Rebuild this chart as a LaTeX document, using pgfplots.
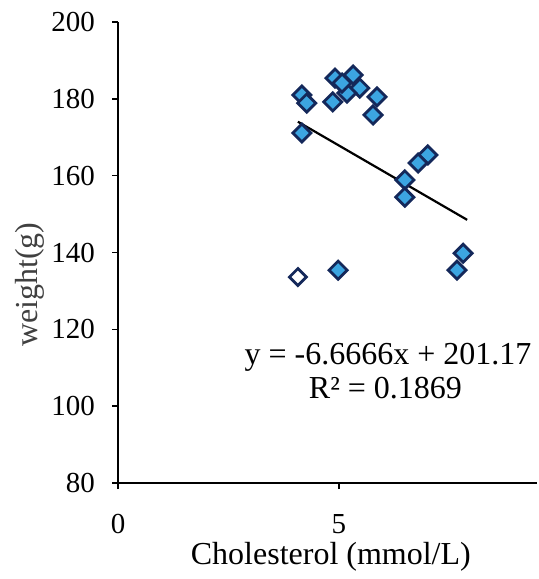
\documentclass[border=0pt]{standalone}
\usepackage{fontspec}
\setmainfont{Liberation Serif}
\usepackage{pgfplots}
\pgfplotsset{compat=1.18}
\definecolor{ptfill}{RGB}{60,165,225}
\definecolor{ptedge}{RGB}{20,40,90}

\begin{document}
\begin{tikzpicture}
\useasboundingbox (0,0) rectangle (269pt,289.5pt);
\begin{axis}[
    at={(59pt,48pt)}, anchor=south west,
    scale only axis,
    width=209.5pt, height=230.5pt,
    xmin=0, xmax=9.48, ymin=80, ymax=200,
    axis lines=left,
    axis line style={-, line width=0.9pt},
    xtick={0,5}, ytick={80,100,...,200},
    tick align=outside,
    major tick length=3pt,
    tick style={line width=0.8pt, black},
    /pgf/number format/assume math mode=true,
    tick label style={font=\fontsize{14.5}{16}\selectfont},
    xticklabel style={yshift=-9pt},
    yticklabel style={xshift=-5pt},
    xlabel={Cholesterol (mmol/L)},
    ylabel={weight(g)},
    label style={font=\fontsize{16}{18}\selectfont},
    xlabel style={at={(axis description cs:0.508,-0.16)}, anchor=center},
    ylabel style={at={(axis description cs:-0.21,0.43)}, anchor=center, text=black!75},
    clip=false,
]
% blue points
\addplot[only marks, mark=square*, mark size=3.2pt,
    mark options={rotate=45, fill=ptfill, draw=ptedge, line width=1.4pt}]
coordinates {
 (4.16,181.0) (4.27,178.9) (4.16,171.1)
 (4.91,185.4) (5.32,186.2) (5.47,182.8) (4.86,179.2) (5.18,181.5) (5.07,184.1)
 (5.86,180.5) (5.77,175.8)
 (7.01,165.4) (6.79,163.3) (6.49,158.9) (6.49,154.4)
 (7.81,139.8) (7.67,135.4) (4.98,135.4)
};
% open point
\addplot[only marks, mark=square*, mark size=3.0pt,
    mark options={rotate=45, fill=white, draw=ptedge, line width=1.4pt}]
coordinates {(4.07,133.6)};
% linear trend
\addplot[black, line width=1.1pt, no marks] coordinates {(4.07,174.04) (7.9,148.50)};
\node[font=\fontsize{16}{18}\selectfont] at (axis cs:6.11,112.8) {y = -6.6666x + 201.17};
\node[font=\fontsize{16}{18}\selectfont] at (axis cs:6.05,104.7) {R² = 0.1869};
\end{axis}
\end{tikzpicture}
\end{document}
